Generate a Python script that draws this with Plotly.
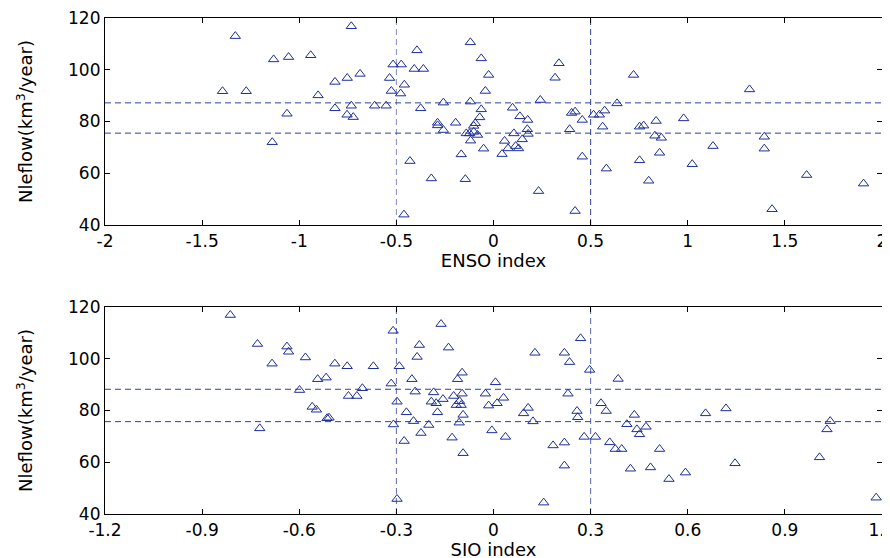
import plotly.graph_objects as go

# ---- Top panel: ENSO index vs Nile flow ----
enso_x = [-1.329, -1.395, -1.273, -1.132, -1.055, -0.941, -1.063, -1.139, -0.903, -0.816,
          -0.753, -0.687, -0.732, -0.816, -0.732, -0.754, -0.722, -0.612, -0.553, -0.535,
          -0.526, -0.517, -0.475, -0.478, -0.459, -0.461, -0.430, -0.394, -0.408, -0.361,
          -0.375, -0.320, -0.288, -0.288, -0.258, -0.258, -0.195, -0.166, -0.145, -0.119,
          -0.063, -0.025, -0.042, -0.119, -0.063, -0.071, -0.094, -0.102, -0.140, -0.123,
          -0.102, -0.082, -0.118, -0.051, 0.098, 0.136, 0.176, 0.241, 0.337, 0.317,
          0.402, 0.420, 0.457, 0.392, 0.457, 0.232, 0.420, 0.105, 0.174, 0.178,
          0.057, 0.148, 0.114, 0.075, 0.129, 0.044, 0.515, 0.545, 0.572, 0.562,
          0.581, 0.636, 0.721, 0.752, 0.773, 0.837, 0.831, 0.864, 0.855, 0.752,
          0.799, 0.979, 1.023, 1.130, 1.318, 1.394, 1.394, 1.434, 1.612, 1.905]
enso_flow = [113.0, 91.7, 91.7, 104.0, 104.9, 105.6, 83.0, 72.0, 90.1, 95.3,
             96.8, 98.4, 116.8, 85.1, 86.1, 82.6, 81.7, 86.1, 86.1, 96.8,
             91.8, 102.0, 102.0, 90.8, 94.2, 44.0, 64.7, 107.5, 100.3, 100.3,
             85.1, 58.0, 79.5, 78.5, 87.3, 76.7, 79.5, 67.3, 57.7, 110.6,
             104.4, 98.0, 91.8, 87.7, 84.7, 81.6, 79.3, 78.3, 75.4, 75.4,
             76.0, 74.8, 72.6, 69.5, 85.3, 82.0, 80.6, 88.3, 102.5, 96.9,
             83.3, 83.8, 80.6, 77.0, 66.4, 53.1, 45.4, 75.4, 77.0, 75.2,
             72.5, 73.1, 70.5, 69.6, 69.6, 67.4, 82.6, 82.6, 84.2, 78.0,
             61.8, 87.0, 98.0, 78.0, 78.4, 80.2, 74.5, 73.7, 67.9, 65.0,
             57.1, 81.2, 63.5, 70.5, 92.4, 74.1, 69.5, 46.1, 59.3, 56.0]

# ---- Bottom panel: SIO index vs Nile flow ----
sio_x = [-0.813, -0.729, -0.722, -0.638, -0.633, -0.684, -0.581, -0.599, -0.560, -0.547,
         -0.543, -0.517, -0.514, -0.508, -0.490, -0.452, -0.405, -0.448, -0.422, -0.371,
         -0.310, -0.316, -0.291, -0.298, -0.309, -0.298, -0.276, -0.269, -0.252, -0.242,
         -0.229, -0.236, -0.247, -0.224, -0.200, -0.185, -0.192, -0.177, -0.173, -0.156,
         -0.162, -0.139, -0.128, -0.094, -0.097, -0.111, -0.123, -0.097, -0.115, -0.105,
         -0.100, -0.094, -0.106, -0.025, -0.015, 0.011, 0.006, -0.005, 0.031, 0.037,
         0.107, 0.093, 0.122, 0.128, 0.184, 0.219, 0.219, 0.155, 0.219, 0.235,
         0.269, 0.230, 0.258, 0.260, 0.297, 0.280, 0.315, 0.332, 0.348, 0.359,
         0.376, 0.396, 0.385, 0.435, 0.412, 0.443, 0.471, 0.451, 0.513, 0.423,
         0.485, 0.542, 0.593, 0.655, 0.718, 0.746, 1.007, 1.040, 1.030, 1.182]
sio_flow = [116.9, 105.7, 73.1, 104.7, 102.7, 98.1, 100.5, 87.9, 81.4, 80.3,
            92.1, 92.7, 77.0, 77.2, 98.1, 97.1, 88.6, 85.6, 85.6, 97.1,
            110.8, 90.4, 97.1, 83.4, 74.6, 45.8, 68.2, 79.3, 92.1, 87.3,
            105.3, 100.7, 75.9, 71.3, 74.4, 87.0, 83.4, 82.8, 79.3, 84.4,
            113.4, 104.3, 69.5, 63.5, 94.6, 92.1, 85.6, 86.5, 82.1, 83.6,
            82.1, 78.3, 75.3, 86.5, 81.9, 82.8, 90.9, 72.3, 84.9, 69.8,
            81.0, 78.9, 75.8, 102.3, 66.5, 67.6, 58.7, 44.4, 102.3, 98.7,
            107.9, 86.5, 79.8, 77.4, 95.7, 69.8, 69.8, 82.8, 79.8, 67.7,
            65.1, 65.1, 92.2, 78.3, 74.7, 72.7, 73.7, 70.8, 65.1, 57.5,
            58.0, 53.5, 56.0, 78.9, 80.8, 59.6, 61.9, 75.9, 72.7, 46.3]

# thresholds
enso_vlines = [-0.5, 0.5]
enso_hlines = [87.2, 75.5]
sio_vlines = [-0.3, 0.3]
sio_hlines = [88.2, 75.7]

# ticks
enso_ticks = [-2, -1.5, -1, -0.5, 0, 0.5, 1, 1.5, 2]
enso_ticklabels = ["-2", "-1.5", "-1", "-0.5", "0", "0.5", "1", "1.5", "2"]
sio_ticks = [-1.2, -0.9, -0.6, -0.3, 0, 0.3, 0.6, 0.9, 1.2]
sio_ticklabels = ["-1.2", "-0.9", "-0.6", "-0.3", "0", "0.3", "0.6", "0.9", "1.2"]
y_ticks = [40, 60, 80, 100, 120]

MARK = "#1c2f9c"
DASH = "#2e44a0"
FONT = "DejaVu Sans, Liberation Sans, Arial, sans-serif"

# page body adds an 8px offset; positions below are compensated for it
OFF = 8
W, H = 890, 558
ML, MT = 104.7 - OFF, 18 - OFF
MR = W - (881.7 - OFF)
MB = H - (514 - OFF)
PH = H - MT - MB

fig = go.Figure()
marker = dict(symbol="triangle-up-open", size=9, color=MARK, line=dict(width=1, color=MARK))
fig.add_trace(go.Scatter(x=enso_x, y=enso_flow, mode="markers", marker=marker,
                         xaxis="x", yaxis="y", showlegend=False))
fig.add_trace(go.Scatter(x=sio_x, y=sio_flow, mode="markers", marker=marker,
                         xaxis="x2", yaxis="y2", showlegend=False))

shapes = []
def add_lines(vl, hl, xr, yr, vcolors):
    for v, c in zip(vl, vcolors):
        shapes.append(dict(type="line", xref=xr, yref=yr + " domain", x0=v, x1=v, y0=0, y1=1,
                           line=dict(color=c, width=1, dash="6px,4px"), layer="below"))
    for h in hl:
        shapes.append(dict(type="line", xref=xr + " domain", yref=yr, x0=0, x1=1, y0=h, y1=h,
                           line=dict(color=DASH, width=1, dash="6px,4px"), layer="below"))

add_lines(enso_vlines, enso_hlines, "x", "y", ["#7f8cc0", DASH])
add_lines(sio_vlines, sio_hlines, "x2", "y2", ["#5a6bb0", "#5a6bb0"])

axis_common = dict(showline=True, linecolor="black", linewidth=1.2, mirror="ticks",
                   ticks="inside", ticklen=5, tickcolor="black", tickwidth=1,
                   showgrid=False, zeroline=False, automargin=False,
                   ticklabeloverflow="allow",
                   tickfont=dict(family=FONT, size=17, color="black"))

def ydom(top_px, bot_px):
    top_px -= OFF
    bot_px -= OFF
    return [(H - MB - bot_px) / PH, (H - MB - top_px) / PH]

title_font = dict(family=FONT, size=18, color="black")
fig.update_layout(
    width=W, height=H,
    margin=dict(l=ML, r=MR, t=MT, b=MB, pad=0),
    paper_bgcolor="white", plot_bgcolor="white",
    font=dict(family=FONT, size=17, color="black"),
    xaxis=dict(domain=[0, 1], range=[-2, 2], tickvals=enso_ticks, ticktext=enso_ticklabels,
               anchor="y", title=dict(text="ENSO index", font=title_font, standoff=4),
               **axis_common),
    yaxis=dict(domain=ydom(18, 225), range=[40, 120], tickvals=y_ticks, anchor="x",
               title=dict(text="Nleflow(km<sup>3</sup>/year)", font=title_font, standoff=30),
               **axis_common),
    xaxis2=dict(domain=[0, 1], range=[-1.2, 1.2], tickvals=sio_ticks, ticktext=sio_ticklabels,
                anchor="y2", title=dict(text="SIO index", font=title_font, standoff=4),
                **axis_common),
    yaxis2=dict(domain=ydom(307, 514), range=[40, 120], tickvals=y_ticks, anchor="x2",
                title=dict(text="Nleflow(km<sup>3</sup>/year)", font=title_font, standoff=30),
                **axis_common),
    shapes=shapes,
)

fig.write_html("out.html")
